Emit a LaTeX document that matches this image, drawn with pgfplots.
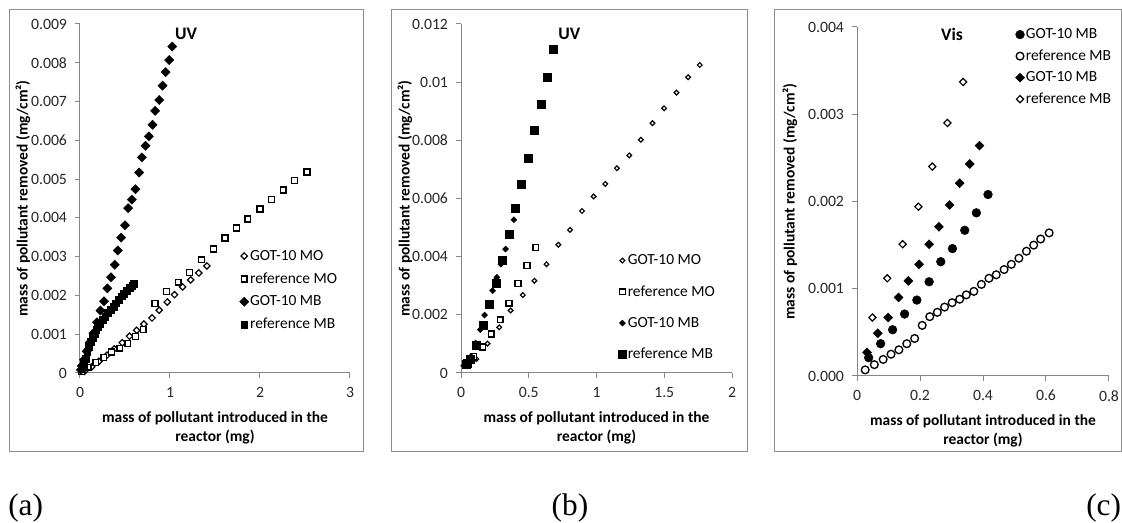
\documentclass[border=0pt]{standalone}
\usepackage{fontspec}
\setmainfont{Carlito}
\newfontfamily\capfont{Liberation Serif}
\usepackage{pgfplots}
\pgfplotsset{compat=1.18}
\definecolor{axiscol}{HTML}{868686}
\definecolor{framecol}{HTML}{8E8E8E}
\definecolor{tickcol}{HTML}{262626}

\pgfplotsset{
  panel/.style={
    scale only axis, anchor=south west, clip=false,
    axis x line*=bottom, axis y line*=left,
    axis line style={axiscol, line width=0.75pt, -},
    tick style={axiscol, line width=0.75pt},
    tick align=outside, major tick length=3.75pt,
    ticklabel style={font=\fontsize{11.8}{14}\selectfont, text=tickcol},
    /pgf/number format/assume math mode=true,
    scaled ticks=false,
    yticklabel style={/pgf/number format/fixed, /pgf/number format/precision=3, xshift=-2.5pt},
    xticklabel style={/pgf/number format/fixed, yshift=-3.5pt},
    label style={font=\bfseries\fontsize{11.6}{14.25}\selectfont, text=black},
    xlabel style={at={(axis description cs:0.5,-0.157)}, anchor=center, align=center},
    xlabel={mass of pollutant introduced in the\\reactor (mg)},
    ylabel={mass of pollutant removed (mg/cm²)},
    legend cell align=left,
    legend image code/.code={\draw[##1] plot coordinates {(0pt,0pt)};},
    legend style={draw=none, fill=none, inner sep=0pt,
      font=\fontsize{11.6}{14}\selectfont,
      nodes={inner sep=1pt},
      /tikz/every even column/.append style={column sep=0pt}},
  },
  fdia/.style={only marks, black, mark=square*, mark options={rotate=45, fill=black, draw=black, line width=0.3pt}, mark size=#1},
  odia/.style={only marks, black, mark=square*, mark options={rotate=45, fill=white, draw=black, line width=0.9pt}, mark size=#1},
  fsq/.style={only marks, black, mark=square*, mark options={fill=black, draw=black, line width=0.3pt}, mark size=#1},
  osq/.style={only marks, black, mark=square*, mark options={fill=white, draw=black, line width=1.1pt}, mark size=#1},
  fcirc/.style={only marks, black, mark=*, mark options={fill=black, draw=black, line width=0.3pt}, mark size=#1},
  ocirc/.style={only marks, black, mark=*, mark options={fill=white, draw=black, line width=1.0pt}, mark size=#1},
}

\begin{document}
\begin{tikzpicture}
\useasboundingbox (0,0) rectangle (841.5pt,392.25pt);

% panel frames
\draw[framecol, line width=0.75pt] (6.75pt,53.25pt) rectangle (272.25pt,384.75pt);
\draw[framecol, line width=0.75pt] (293.25pt,53.25pt) rectangle (560.25pt,384.75pt);
\draw[framecol, line width=0.75pt] (580.5pt,53.25pt) rectangle (840.75pt,384.75pt);

% (a) UV
\begin{axis}[panel,
  at={(60pt,112.5pt)}, width=202.5pt, height=261.75pt,
  xmin=0, xmax=3, ymin=0, ymax=0.009,
  xtick={0,1,2,3},
  ytick={0,0.001,0.002,0.003,0.004,0.005,0.006,0.007,0.008,0.009},
  ylabel style={at={(axis description cs:-0.211,0.5)}, anchor=center},
  legend style={at={(axis description cs:0.59,0.357)}, anchor=north west, row sep=5.9pt},
]
\addplot[odia=1.7pt] coordinates {
(0.05,0.00004) (0.13,0.00016) (0.21,0.00030) (0.30,0.00046) (0.38,0.00062)
(0.47,0.00078) (0.55,0.00095) (0.63,0.00110) (0.71,0.00126) (0.80,0.00142)
(0.88,0.00162) (0.97,0.00183) (1.05,0.00202) (1.14,0.00222) (1.23,0.00240)
(1.32,0.00258) (1.41,0.00276)};
\addplot[osq=2.2pt] coordinates {
(0.015,0.00004) (0.089,0.00015) (0.175,0.00027) (0.264,0.00040) (0.349,0.00054)
(0.442,0.00064) (0.531,0.00076) (0.616,0.00094) (0.702,0.00112) (0.832,0.00179)
(0.962,0.00210) (1.092,0.00234) (1.218,0.00259) (1.348,0.00292) (1.485,0.00320)
(1.612,0.00348) (1.738,0.00374) (1.864,0.00397) (2.000,0.00423) (2.128,0.00447)
(2.258,0.00472) (2.384,0.00496) (2.521,0.00518)};
\addplot[fdia=2.45pt] coordinates {
(0.010,0.00008) (0.020,0.00018) (0.045,0.00034) (0.074,0.00056) (0.111,0.00079)
(0.149,0.00103) (0.189,0.00131) (0.227,0.00161) (0.267,0.00185) (0.304,0.00218)
(0.345,0.00247) (0.386,0.00279) (0.420,0.00316) (0.457,0.00349) (0.501,0.00381)
(0.535,0.00425) (0.576,0.00447) (0.616,0.00474) (0.657,0.00517) (0.687,0.00556)
(0.728,0.00586) (0.765,0.00610) (0.806,0.00640) (0.835,0.00676) (0.880,0.00704)
(0.917,0.00741) (0.951,0.00776) (0.991,0.00807) (1.025,0.00842)};
\addplot[fsq=2.6pt] coordinates {
(0.02,0.00010) (0.04,0.00022) (0.06,0.00038) (0.08,0.00055) (0.10,0.00068)
(0.12,0.00080) (0.14,0.00092) (0.16,0.00102) (0.18,0.00112) (0.20,0.00120)
(0.22,0.00128) (0.25,0.00138) (0.28,0.00146) (0.31,0.00155) (0.34,0.00163)
(0.37,0.00172) (0.40,0.00180) (0.43,0.00190) (0.46,0.00198) (0.49,0.00205)
(0.52,0.00212) (0.55,0.00220) (0.58,0.00226) (0.60,0.00231)};
\legend{GOT-10 MO, reference MO, GOT-10 MB, reference MB}
\node[font=\bfseries\fontsize{13.2}{16}\selectfont] at (axis description cs:0.393,0.971) {UV};
\end{axis}

% (b) UV
\begin{axis}[panel,
  at={(345.75pt,112.5pt)}, width=203.25pt, height=261.75pt,
  xmin=0, xmax=2, ymin=0, ymax=0.012,
  xtick={0,0.5,1,1.5,2},
  ytick={0,0.002,0.004,0.006,0.008,0.01,0.012},
  ylabel style={at={(axis description cs:-0.207,0.5)}, anchor=center},
  legend style={at={(axis description cs:0.58,0.344)}, anchor=north west, row sep=12.2pt},
]
\addplot[odia=1.25pt] coordinates {
(0.060,0.00037) (0.113,0.00048) (0.196,0.00101) (0.282,0.00157) (0.366,0.00215)
(0.456,0.00268) (0.542,0.00317) (0.631,0.00374) (0.719,0.00441) (0.805,0.00492)
(0.893,0.00557) (0.979,0.00607) (1.065,0.00650) (1.151,0.00704) (1.242,0.00748)
(1.328,0.00802) (1.413,0.00859) (1.499,0.00910) (1.590,0.00964) (1.676,0.01017)
(1.762,0.01059)};
\addplot[osq=2.2pt] coordinates {
(0.045,0.00030) (0.093,0.00057) (0.160,0.00089) (0.223,0.00134) (0.290,0.00183)
(0.353,0.00240) (0.420,0.00308) (0.486,0.00370) (0.552,0.00432)};
\addplot[fdia=1.6pt] coordinates {
(0.020,0.00025) (0.044,0.00029) (0.074,0.00057) (0.108,0.00103) (0.142,0.00149)
(0.174,0.00199) (0.233,0.00283) (0.260,0.00322) (0.265,0.00329) (0.295,0.00374)
(0.329,0.00426) (0.390,0.00527)};
\addplot[fsq=3.0pt] coordinates {
(0.040,0.00030) (0.049,0.00034) (0.069,0.00046) (0.113,0.00097) (0.162,0.00166)
(0.206,0.00237) (0.258,0.00309) (0.307,0.00387) (0.353,0.00478) (0.398,0.00566)
(0.447,0.00650) (0.493,0.00737) (0.542,0.00836) (0.591,0.00925) (0.638,0.01017)
(0.682,0.01113)};
\legend{GOT-10 MO, reference MO, GOT-10 MB, reference MB}
\node[font=\bfseries\fontsize{13.2}{16}\selectfont] at (axis description cs:0.4,0.971) {UV};
\end{axis}

% (c) Vis
\begin{axis}[panel,
  at={(642.75pt,110.25pt)}, width=189pt, height=261.75pt,
  xmin=0, xmax=0.8, ymin=0, ymax=0.004,
  xtick={0,0.2,0.4,0.6,0.8},
  ytick={0,0.001,0.002,0.003,0.004},
  yticklabel style={/pgf/number format/fixed zerofill, /pgf/number format/precision=3},
  ylabel style={at={(axis description cs:-0.266,0.5)}, anchor=center},
  legend style={at={(axis description cs:0.628,1.0)}, anchor=north west, row sep=4.9pt},
]
\addplot[fcirc=3.3pt] coordinates {
(0.037,0.00021) (0.075,0.00037) (0.113,0.00053) (0.151,0.00071) (0.190,0.00087)
(0.229,0.00108) (0.266,0.00131) (0.303,0.00146) (0.342,0.00167) (0.379,0.00187)
(0.416,0.00208)};
\addplot[ocirc=2.9pt] coordinates {
(0.026,0.00007) (0.055,0.00013) (0.083,0.00019) (0.108,0.00025) (0.133,0.00030)
(0.158,0.00037) (0.183,0.00043) (0.207,0.00058) (0.231,0.00068) (0.255,0.00073)
(0.278,0.00079) (0.302,0.00084) (0.326,0.00088) (0.347,0.00093) (0.371,0.00097)
(0.395,0.00105) (0.419,0.00112) (0.442,0.00116) (0.467,0.00122) (0.490,0.00128)
(0.514,0.00135) (0.538,0.00143) (0.561,0.00150) (0.583,0.00157) (0.610,0.00164)};
\addplot[fdia=2.4pt] coordinates {
(0.032,0.00027) (0.066,0.00049) (0.099,0.00067) (0.132,0.00090) (0.163,0.00109)
(0.197,0.00128) (0.229,0.00151) (0.260,0.00171) (0.294,0.00196) (0.326,0.00221)
(0.358,0.00243) (0.389,0.00264)};
\addplot[odia=1.9pt] coordinates {
(0.049,0.00067) (0.096,0.00112) (0.145,0.00151) (0.195,0.00194) (0.239,0.00240)
(0.287,0.00290) (0.337,0.00337)};
\legend{GOT-10 MB, reference MB, GOT-10 MB, reference MB}
\node[font=\bfseries\fontsize{13.2}{16}\selectfont] at (axis description cs:0.377,0.98) {Vis};
\end{axis}

% panel captions
\node[font=\capfont\fontsize{23.5}{26}\selectfont, anchor=base west, inner sep=0pt] at (6pt,5.6pt) {(a)};
\node[font=\capfont\fontsize{23.5}{26}\selectfont, anchor=base, inner sep=0pt] at (427.5pt,5.6pt) {(b)};
\node[font=\capfont\fontsize{23.5}{26}\selectfont, anchor=base east, inner sep=0pt] at (841pt,5.6pt) {(c)};
\end{tikzpicture}
\end{document}
